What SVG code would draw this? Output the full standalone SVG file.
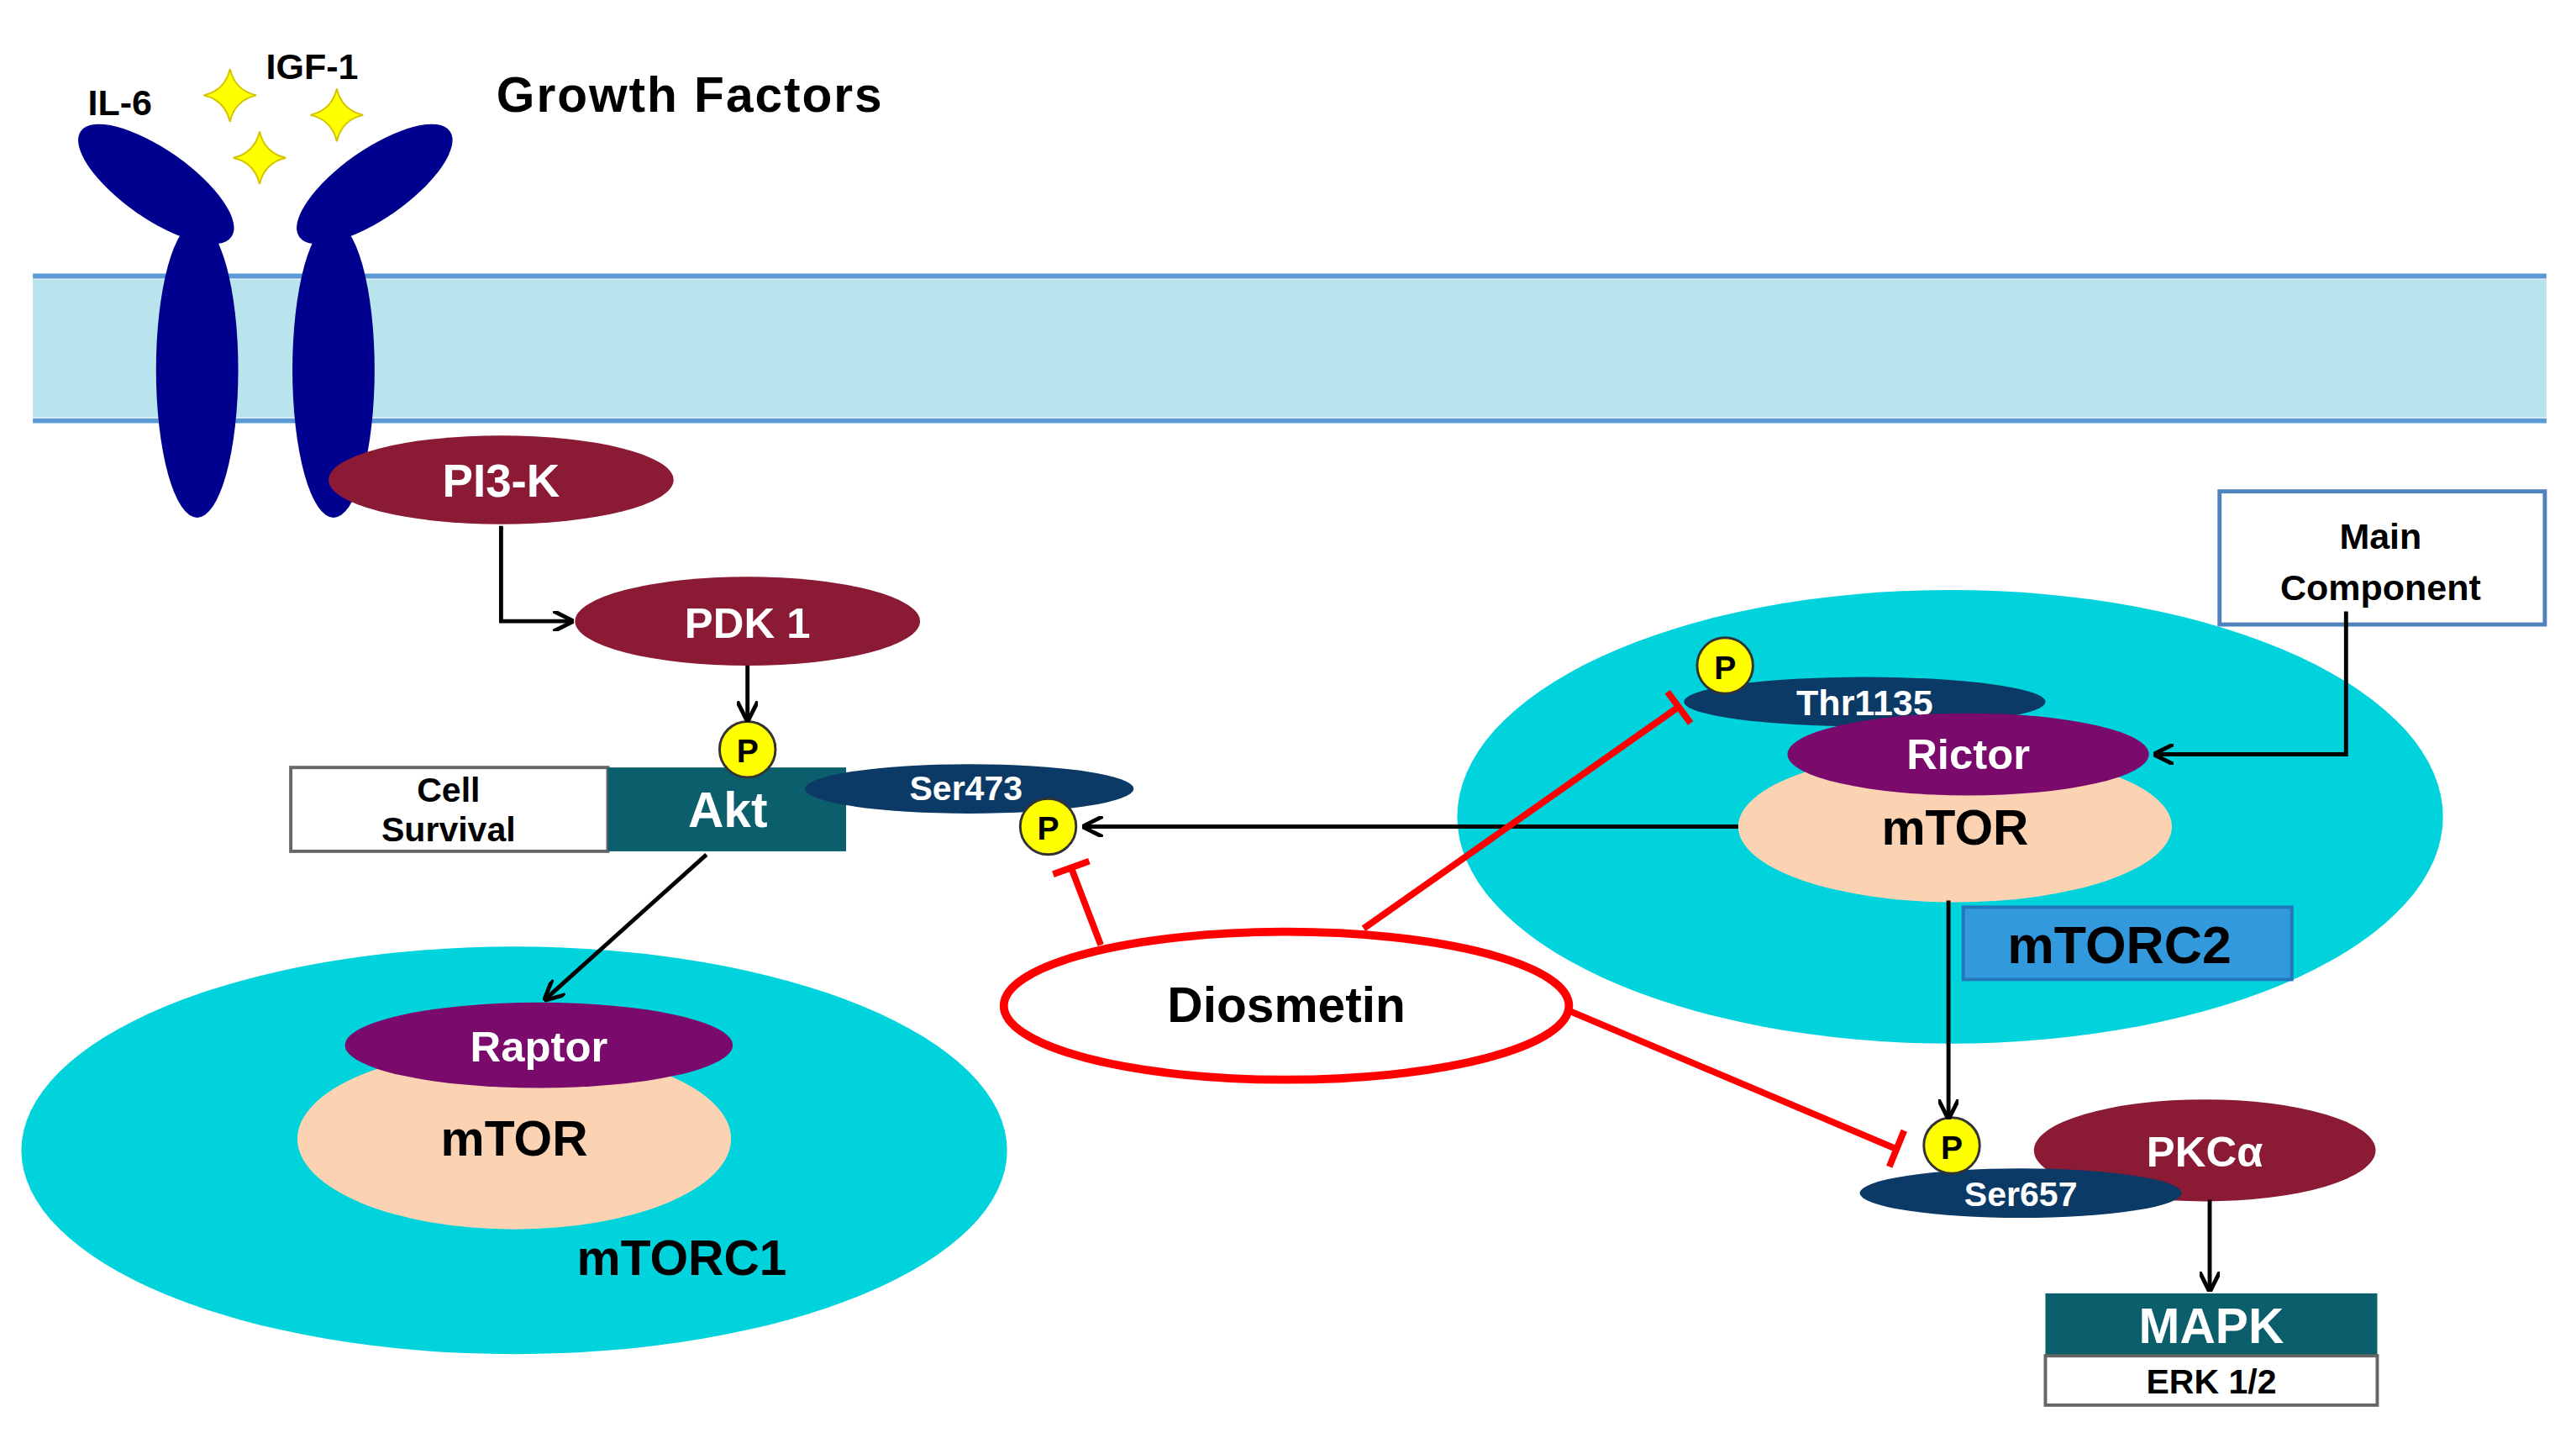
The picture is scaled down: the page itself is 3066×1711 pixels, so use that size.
<svg xmlns="http://www.w3.org/2000/svg" width="3066" height="1711" viewBox="0 0 3066 1711">
<style>
text{font-family:"Liberation Sans",Arial,sans-serif;font-weight:bold;text-anchor:middle}
.w{fill:#fff}.k{fill:#000}
.rec{fill:#00008f}
.mar{fill:#8b1a34}.nav{fill:#0c3a66}.pur{fill:#7a0a6c}.peach{fill:#fbd3b2}.cy{fill:#00d3dc}
.pc{fill:#ffff00;stroke:#333;stroke-width:1.5}
.ar{stroke:#000;stroke-width:2.5;fill:none;marker-end:url(#ah)}
.inh{stroke:#f00;stroke-width:4;fill:none}
</style>
<defs>
<marker id="ah" viewBox="0 0 10 10" refX="9" refY="5" markerWidth="5" markerHeight="5" orient="auto"><path d="M0,0 L10,5 L0,10" fill="none" stroke="#000" stroke-width="2"/></marker>
<path id="star" d="M0,-16 Q3,-3 16,0 Q3,3 0,16 Q-3,3 -16,0 Q-3,-3 0,-16Z" fill="#ffff00" stroke="#d4c400" stroke-width="1"/>
</defs>
<rect width="3066" height="1711" fill="#fff"/>
<g transform="scale(1.9554)">
<g id="membrane">
<rect x="20" y="170" width="1530" height="84" fill="#b9e4ee"/>
<line x1="20" y1="168" x2="1550" y2="168" stroke="#5b9bd5" stroke-width="3"/>
<line x1="20" y1="256" x2="1550" y2="256" stroke="#5b9bd5" stroke-width="3"/>
</g>
<g id="receptor">
<ellipse class="rec" cx="120" cy="225" rx="25" ry="90"/>
<ellipse class="rec" cx="203" cy="225" rx="25" ry="90"/>
<ellipse class="rec" cx="95" cy="112" rx="56" ry="21" transform="rotate(35 95 112)"/>
<ellipse class="rec" cx="228" cy="112" rx="56" ry="21" transform="rotate(-35 228 112)"/>
</g>
<g id="ligands">
<use href="#star" x="140" y="58"/><use href="#star" x="158" y="96"/><use href="#star" x="205" y="70"/>
<text x="73" y="70" font-size="22" class="k">IL-6</text>
<text x="190" y="48" font-size="22" class="k">IGF-1</text>
<text x="420" y="68" font-size="30" class="k" letter-spacing="1">Growth Factors</text>
</g>
<g id="mtorc1">
<ellipse class="cy" cx="313" cy="700" rx="300" ry="124"/>
<ellipse class="peach" cx="313" cy="693" rx="132" ry="55"/>
<ellipse class="pur" cx="328" cy="636" rx="118" ry="26"/>
<text x="328" y="646" font-size="26" class="w">Raptor</text>
<text x="313" y="703" font-size="30" class="k">mTOR</text>
<text x="415" y="776" font-size="30" class="k">mTORC1</text>
</g>
<g id="mtorc2">
<ellipse class="cy" cx="1187" cy="497" rx="300" ry="138"/>
<ellipse class="nav" cx="1135" cy="427" rx="110" ry="15"/>
<text x="1135" y="435" font-size="22" class="w">Thr1135</text>
<circle class="pc" cx="1050" cy="405" r="17"/><text x="1050" y="413" font-size="20" class="k">P</text>
<ellipse class="peach" cx="1190" cy="503" rx="132" ry="46"/>
<ellipse class="pur" cx="1198" cy="459" rx="110" ry="25"/>
<text x="1198" y="468" font-size="26" class="w">Rictor</text>
<text x="1190" y="514" font-size="30" class="k">mTOR</text>
<rect x="1195" y="552" width="200" height="44" fill="#3399dd" stroke="#2277bb" stroke-width="2"/>
<text x="1290" y="586" font-size="32" class="k">mTORC2</text>
</g>
<g id="pi3k"><ellipse class="mar" cx="305" cy="292" rx="105" ry="27"/><text x="305" y="302" font-size="28" class="w">PI3-K</text></g>
<g id="pdk1"><ellipse class="mar" cx="455" cy="378" rx="105" ry="27"/><text x="455" y="388" font-size="26" class="w">PDK 1</text></g>
<g id="akt">
<rect x="177" y="467" width="193" height="51" fill="#fff" stroke="#666" stroke-width="2"/>
<text x="273" y="488" font-size="21" class="k">Cell</text><text x="273" y="512" font-size="21" class="k">Survival</text>
<rect x="370" y="467" width="145" height="51" fill="#0b5f6c"/>
<text x="443" y="503" font-size="30" class="w">Akt</text>
<ellipse class="nav" cx="590" cy="480" rx="100" ry="15"/>
<text x="588" y="487" font-size="21" class="w">Ser473</text>
<circle class="pc" cx="455" cy="456" r="17"/><text x="455" y="464" font-size="20" class="k">P</text>
<circle class="pc" cx="638" cy="503" r="17"/><text x="638" y="511" font-size="20" class="k">P</text>
</g>
<g id="diosmetin"><ellipse cx="783" cy="612" rx="172" ry="45" fill="#fff" stroke="#f00" stroke-width="5"/><text x="783" y="622" font-size="30" class="k">Diosmetin</text></g>
<g id="main"><rect x="1351" y="299" width="198" height="81" fill="#fff" stroke="#4f81bd" stroke-width="2.5"/>
<text x="1449" y="334" font-size="22" class="k">Main</text><text x="1449" y="365" font-size="22" class="k">Component</text></g>
<g id="pkc">
<ellipse class="mar" cx="1342" cy="700" rx="104" ry="31"/>
<text x="1342" y="710" font-size="26" class="w">PKCα</text>
<ellipse class="nav" cx="1230" cy="726" rx="98" ry="15"/>
<text x="1230" y="734" font-size="21" class="w">Ser657</text>
<circle class="pc" cx="1188" cy="697" r="17"/><text x="1188" y="705" font-size="20" class="k">P</text>
</g>
<g id="mapk"><rect x="1245" y="787" width="202" height="38" fill="#0b5f6c"/><text x="1346" y="817" font-size="30" class="w">MAPK</text>
<rect x="1245" y="825" width="202" height="30" fill="#fff" stroke="#666" stroke-width="2"/><text x="1346" y="848" font-size="21" class="k">ERK 1/2</text></g>
<g id="connectors">
<path class="ar" d="M305,320 V378 H348"/>
<path class="ar" d="M455,405 V438"/>
<path class="ar" d="M1058,503 H660"/>
<path class="ar" d="M430,520 L332,608"/>
<path class="ar" d="M1428,372 V459 H1312"/>
<path class="ar" d="M1186,548 V680"/>
<path class="ar" d="M1345,730 V785"/>
<path class="inh" d="M670,575 L652,528 M641,532 L663,524"/>
<path class="inh" d="M830,565 L1022,430 M1015,421 L1029,440"/>
<path class="inh" d="M955,615 L1154,699 M1150,710 L1159,688"/>
</g>
</g>
</svg>
